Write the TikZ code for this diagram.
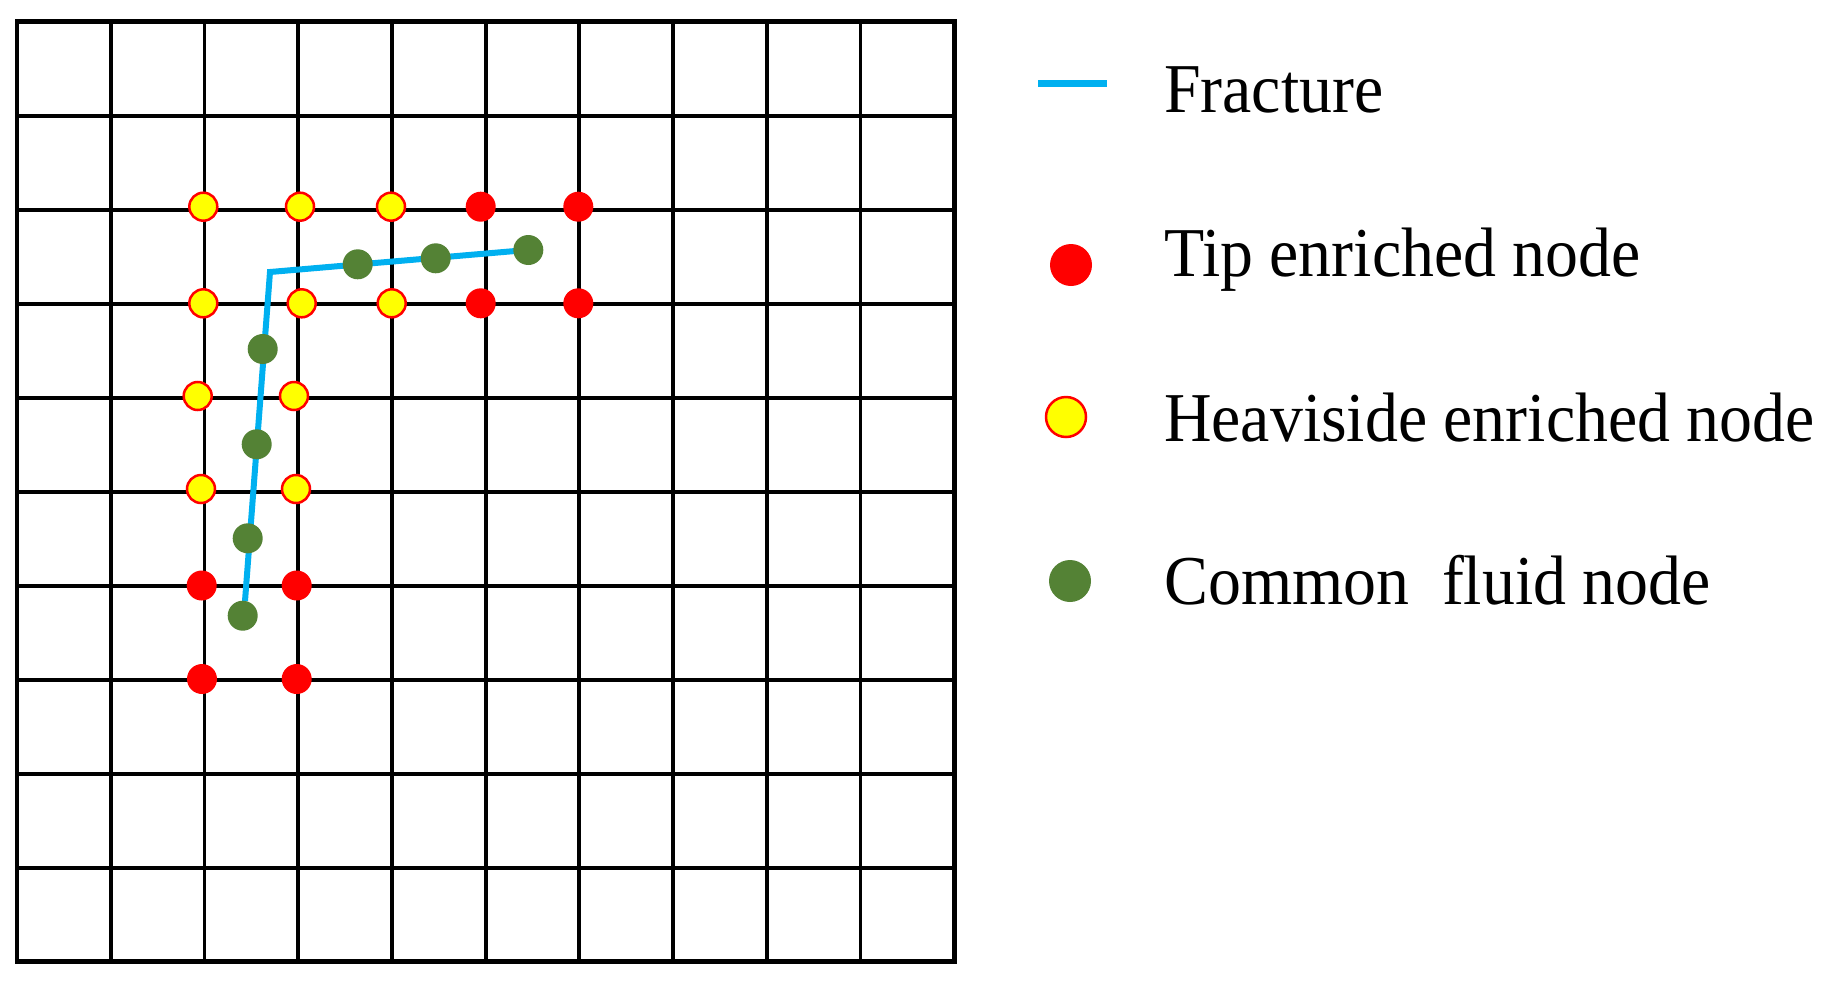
\documentclass[tikz,border=0pt]{standalone}
\usepackage{fontspec}
\setmainfont{Liberation Serif}
\newfontfamily\legfont[FakeStretch=0.94]{Liberation Serif}
\definecolor{fraccol}{RGB}{0,176,240}
\definecolor{tipred}{RGB}{255,0,0}
\definecolor{hvyel}{RGB}{255,255,0}
\definecolor{fluidgreen}{RGB}{84,130,53}
\begin{document}
\begin{tikzpicture}[x=1pt,y=-1pt,
  tipdot/.style={circle,fill=tipred,draw=none,minimum size=#1,inner sep=0pt},
  tipdot/.default=30pt,
  hvdot/.style={circle,fill=hvyel,draw=tipred,line width=2.5pt,minimum size=#1,inner sep=0pt},
  hvdot/.default=28pt,
  fluiddot/.style={circle,fill=fluidgreen,draw=none,minimum size=#1,inner sep=0pt},
  fluiddot/.default=30pt,
  fracline/.style={draw=fraccol,line width=6pt,line join=miter},
  gridline/.style={draw=black,line width=3.8pt},
  gridframe/.style={draw=black,line width=4.8pt},
  legtext/.style={anchor=base west,inner sep=0pt,font=\legfont\fontsize{70}{76}\selectfont}]
\useasboundingbox[fill=white] (0,0) rectangle (1833,980);
% grid
\foreach \i in {1,...,9}{
  \draw[gridline] ({17+93.73*\i},21.7) -- ({17+93.73*\i},961.7);
  \draw[gridline] (17,{21.7+94*\i}) -- (954.3,{21.7+94*\i});
}
\draw[gridframe] (17,21.7) rectangle (954.3,961.7);
% fracture
\coordinate (fb) at (245,601);
\coordinate (fc) at (270,272);
\coordinate (fe) at (527,250);
\draw[fracline] (fb) -- (fc) -- (fe);
% heaviside nodes
\node[hvdot] (h1) at (203.3,206.7) {};
\node[hvdot] (h2) at (300,206.7) {};
\node[hvdot] (h3) at (391,206.7) {};
\node[hvdot] (h4) at (203.3,303.3) {};
\node[hvdot] (h5) at (301.7,303.3) {};
\node[hvdot] (h6) at (391.7,303.3) {};
\node[hvdot] (h7) at (197.7,396) {};
\node[hvdot] (h8) at (294,396) {};
\node[hvdot] (h9) at (201,489) {};
\node[hvdot] (h10) at (296,489) {};
% tip nodes
\node[tipdot] (t1) at (480.7,206.7) {};
\node[tipdot] (t2) at (578.3,206.7) {};
\node[tipdot] (t3) at (480.7,303.3) {};
\node[tipdot] (t4) at (578.3,303.3) {};
\node[tipdot] (t5) at (201.7,585.5) {};
\node[tipdot] (t6) at (296.7,585.5) {};
\node[tipdot] (t7) at (202,679) {};
\node[tipdot] (t8) at (296.7,679) {};
% fluid nodes
\node[fluiddot] (g1) at (242.7,615.7) {};
\node[fluiddot] (g2) at (247.7,538.3) {};
\node[fluiddot] (g3) at (256.7,444.3) {};
\node[fluiddot] (g4) at (262.7,349) {};
\node[fluiddot] (g5) at (357.7,264.3) {};
\node[fluiddot] (g6) at (435.7,258.3) {};
\node[fluiddot] (g7) at (528.3,250) {};
% legend
\coordinate (la) at (1038,83.3);
\coordinate (lb) at (1107,83.3);
\draw[draw=fraccol,line width=7.5pt] (la) -- (lb);
\node[legtext] (lt1) at (1164,112.7) {Fracture};
\node[tipdot=42pt] (lr) at (1071,265) {};
\node[legtext] (lt2) at (1164,276.7) {Tip enriched node};
\node[hvdot=40pt] (lh) at (1066,417) {};
\node[legtext] (lt3) at (1164,441.7) {Heaviside enriched node};
\node[fluiddot=42pt] (lg) at (1070,581) {};
\node[legtext] (lt4) at (1164,604) {Common\ \ fluid node};
\end{tikzpicture}
\end{document}
